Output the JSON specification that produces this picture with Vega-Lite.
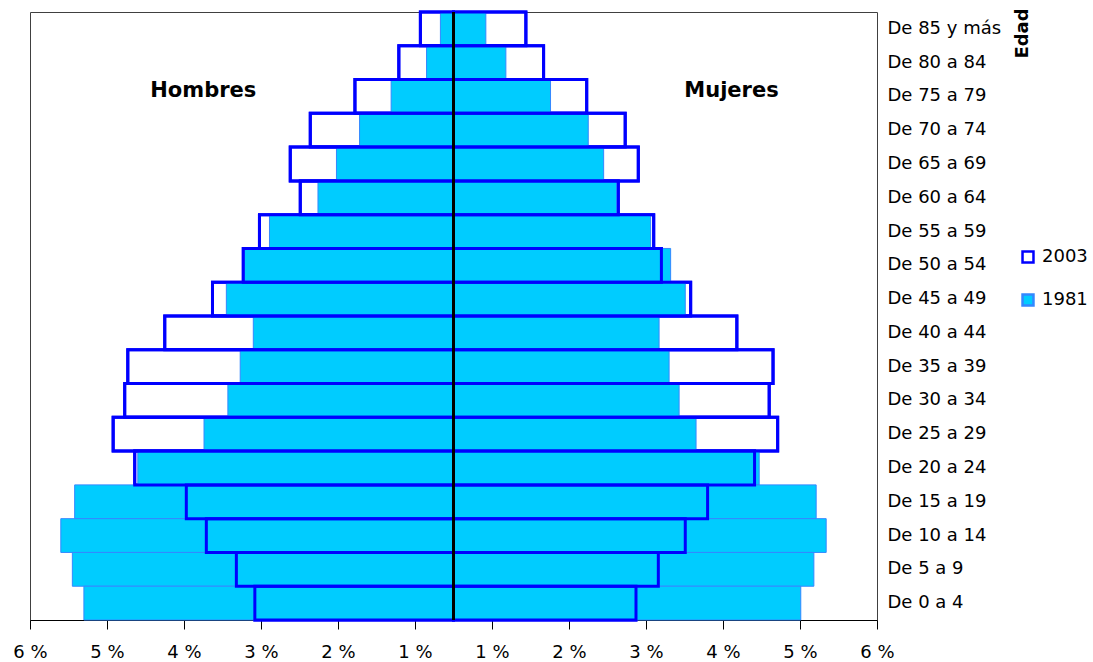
{
  "$schema": "https://vega.github.io/schema/vega-lite/v6.json",
  "width": 847,
  "height": 608,
  "autosize": {"type": "none"},
  "padding": {"left": 30, "top": 12, "right": 216, "bottom": 42},
  "background": "white",
  "config": {
    "view": {"stroke": "#404040", "strokeWidth": 1},
    "font": "DejaVu Sans",
    "axis": {"labelFont": "DejaVu Sans", "labelFontSize": 18, "labelColor": "#000", "domainColor": "#000", "tickColor": "#000", "grid": false, "titleColor": "#000"},
    "legend": {"orient": "none", "legendX": 989, "legendY": 236, "symbolType": "square", "symbolSize": 120, "symbolStrokeWidth": 2.5, "labelFont": "DejaVu Sans", "labelFontSize": 18, "labelColor": "#000", "rowPadding": 21, "labelOffset": 5, "padding": 0}
  },
  "data": {"values": [
    {"edad": "De 85 y más", "h2003": 0.93, "h1981": 0.67, "m2003": 1.44, "m1981": 0.92},
    {"edad": "De 80 a 84", "h2003": 1.21, "h1981": 0.85, "m2003": 1.67, "m1981": 1.18},
    {"edad": "De 75 a 79", "h2003": 1.78, "h1981": 1.31, "m2003": 2.23, "m1981": 1.76},
    {"edad": "De 70 a 74", "h2003": 2.36, "h1981": 1.72, "m2003": 2.73, "m1981": 2.25},
    {"edad": "De 65 a 69", "h2003": 2.62, "h1981": 2.02, "m2003": 2.90, "m1981": 2.45},
    {"edad": "De 60 a 64", "h2003": 2.49, "h1981": 2.26, "m2003": 2.64, "m1981": 2.62},
    {"edad": "De 55 a 59", "h2003": 3.02, "h1981": 2.89, "m2003": 3.10, "m1981": 3.06},
    {"edad": "De 50 a 54", "h2003": 3.23, "h1981": 3.22, "m2003": 3.20, "m1981": 3.32},
    {"edad": "De 45 a 49", "h2003": 3.63, "h1981": 3.45, "m2003": 3.58, "m1981": 3.51},
    {"edad": "De 40 a 44", "h2003": 4.25, "h1981": 3.10, "m2003": 4.18, "m1981": 3.17},
    {"edad": "De 35 a 39", "h2003": 4.73, "h1981": 3.27, "m2003": 4.65, "m1981": 3.30},
    {"edad": "De 30 a 34", "h2003": 4.77, "h1981": 3.43, "m2003": 4.60, "m1981": 3.43},
    {"edad": "De 25 a 29", "h2003": 4.92, "h1981": 3.74, "m2003": 4.71, "m1981": 3.65},
    {"edad": "De 20 a 24", "h2003": 4.64, "h1981": 4.60, "m2003": 4.41, "m1981": 4.47},
    {"edad": "De 15 a 19", "h2003": 3.97, "h1981": 5.42, "m2003": 3.80, "m1981": 5.21},
    {"edad": "De 10 a 14", "h2003": 3.71, "h1981": 5.60, "m2003": 3.51, "m1981": 5.34},
    {"edad": "De 5 a 9", "h2003": 3.32, "h1981": 5.45, "m2003": 3.16, "m1981": 5.18},
    {"edad": "De 0 a 4", "h2003": 3.08, "h1981": 5.30, "m2003": 2.87, "m1981": 5.01}
  ]},
  "resolve": {"scale": {"x": "independent"}, "axis": {"x": "independent"}},
  "layer": [
    {
      "layer": [
        {
          "mark": {"type": "bar", "strokeWidth": 3},
          "encoding": {
            "y": {"field": "edad", "type": "nominal", "sort": ["De 85 y más","De 80 a 84","De 75 a 79","De 70 a 74","De 65 a 69","De 60 a 64","De 55 a 59","De 50 a 54","De 45 a 49","De 40 a 44","De 35 a 39","De 30 a 34","De 25 a 29","De 20 a 24","De 15 a 19","De 10 a 14","De 5 a 9","De 0 a 4"], "scale": {"paddingInner": 0, "paddingOuter": 0}, "axis": {"orient": "right", "title": "Edad", "titleAngle": -90, "titleFont": "DejaVu Sans", "titleFontSize": 18, "titleFontWeight": "bold", "titleX": 145, "titleY": 21, "titleAlign": "center", "titleBaseline": "middle", "ticks": false, "labelPadding": 10, "domain": false}},
            "x": {"field": "h2003", "type": "quantitative", "title": null, "scale": {"domain": [-5, 6], "reverse": true, "nice": false, "zero": false}, "axis": null},
            "x2": {"datum": 0.5},
            "fill": {"datum": "2003", "type": "nominal", "scale": {"domain": ["2003", "1981"], "range": ["#FFFFFF", "#00CCFF"]}, "legend": {"title": null}},
            "stroke": {"datum": "2003", "type": "nominal", "scale": {"domain": ["2003", "1981"], "range": ["#0000FF", "#3388FF"]}, "legend": {"title": null}}
          }
        },
        {
          "mark": {"type": "bar", "strokeWidth": 1},
          "encoding": {
            "y": {"field": "edad", "type": "nominal", "sort": ["De 85 y más","De 80 a 84","De 75 a 79","De 70 a 74","De 65 a 69","De 60 a 64","De 55 a 59","De 50 a 54","De 45 a 49","De 40 a 44","De 35 a 39","De 30 a 34","De 25 a 29","De 20 a 24","De 15 a 19","De 10 a 14","De 5 a 9","De 0 a 4"], "scale": {"paddingInner": 0, "paddingOuter": 0}, "axis": {"orient": "right", "title": "Edad", "titleAngle": -90, "titleFont": "DejaVu Sans", "titleFontSize": 18, "titleFontWeight": "bold", "titleX": 145, "titleY": 21, "titleAlign": "center", "titleBaseline": "middle", "ticks": false, "labelPadding": 10, "domain": false}},
            "x": {"field": "h1981", "type": "quantitative", "title": null, "scale": {"domain": [-5, 6], "reverse": true, "nice": false, "zero": false}, "axis": null},
            "x2": {"datum": 0.5},
            "fill": {"datum": "1981", "type": "nominal", "legend": {"title": null}},
            "stroke": {"datum": "1981", "type": "nominal", "legend": {"title": null}}
          }
        },
        {
          "mark": {"type": "bar", "filled": false, "color": "#0000FF", "strokeWidth": 3},
          "encoding": {
            "y": {"field": "edad", "type": "nominal", "sort": ["De 85 y más","De 80 a 84","De 75 a 79","De 70 a 74","De 65 a 69","De 60 a 64","De 55 a 59","De 50 a 54","De 45 a 49","De 40 a 44","De 35 a 39","De 30 a 34","De 25 a 29","De 20 a 24","De 15 a 19","De 10 a 14","De 5 a 9","De 0 a 4"], "scale": {"paddingInner": 0, "paddingOuter": 0}, "axis": {"orient": "right", "title": "Edad", "titleAngle": -90, "titleFont": "DejaVu Sans", "titleFontSize": 18, "titleFontWeight": "bold", "titleX": 145, "titleY": 21, "titleAlign": "center", "titleBaseline": "middle", "ticks": false, "labelPadding": 10, "domain": false}},
            "x": {"field": "h2003", "type": "quantitative", "title": null, "scale": {"domain": [-5, 6], "reverse": true, "nice": false, "zero": false}, "axis": null},
            "x2": {"datum": 0.5}
          }
        },
        {
          "data": {"values": [{"rotulo": "Hombres"}]},
          "mark": {"type": "text", "font": "DejaVu Sans", "fontSize": 21, "fontWeight": "bold", "fill": "#000", "dy": -5},
          "encoding": {
            "x": {"datum": 3.75},
            "y": {"datum": "De 75 a 79", "type": "nominal", "axis": {"orient": "right", "title": "Edad", "titleAngle": -90, "titleFont": "DejaVu Sans", "titleFontSize": 18, "titleFontWeight": "bold", "titleX": 145, "titleY": 21, "titleAlign": "center", "titleBaseline": "middle", "ticks": false, "labelPadding": 10, "domain": false}},
            "text": {"field": "rotulo"}
          }
        }
      ]
    },
    {
      "layer": [
        {
          "mark": {"type": "bar", "strokeWidth": 3},
          "encoding": {
            "y": {"field": "edad", "type": "nominal", "sort": ["De 85 y más","De 80 a 84","De 75 a 79","De 70 a 74","De 65 a 69","De 60 a 64","De 55 a 59","De 50 a 54","De 45 a 49","De 40 a 44","De 35 a 39","De 30 a 34","De 25 a 29","De 20 a 24","De 15 a 19","De 10 a 14","De 5 a 9","De 0 a 4"], "scale": {"paddingInner": 0, "paddingOuter": 0}, "axis": {"orient": "right", "title": "Edad", "titleAngle": -90, "titleFont": "DejaVu Sans", "titleFontSize": 18, "titleFontWeight": "bold", "titleX": 145, "titleY": 21, "titleAlign": "center", "titleBaseline": "middle", "ticks": false, "labelPadding": 10, "domain": false}},
            "x": {"field": "m2003", "type": "quantitative", "title": null, "scale": {"domain": [-5, 6], "nice": false, "zero": false}, "axis": {"orient": "bottom", "title": null, "values": [-5,-4.5,-4,-3.5,-3,-2.5,-2,-1.5,-1,-0.5,0,0.5,1,1.5,2,2.5,3,3.5,4,4.5,5,5.5,6], "labelExpr": "datum.value % 1 === 0 ? (datum.value >= 1 ? datum.value : 1 - datum.value) + ' %' : ''", "tickSize": {"condition": {"test": "datum.value % 1 === 0", "value": 9}, "value": 5}, "labelPadding": 14, "labelFlush": false, "labelOverlap": false}},
            "x2": {"datum": 0.5},
            "fill": {"datum": "2003", "type": "nominal", "legend": {"title": null}},
            "stroke": {"datum": "2003", "type": "nominal", "legend": {"title": null}}
          }
        },
        {
          "mark": {"type": "bar", "strokeWidth": 1},
          "encoding": {
            "y": {"field": "edad", "type": "nominal", "sort": ["De 85 y más","De 80 a 84","De 75 a 79","De 70 a 74","De 65 a 69","De 60 a 64","De 55 a 59","De 50 a 54","De 45 a 49","De 40 a 44","De 35 a 39","De 30 a 34","De 25 a 29","De 20 a 24","De 15 a 19","De 10 a 14","De 5 a 9","De 0 a 4"], "scale": {"paddingInner": 0, "paddingOuter": 0}, "axis": {"orient": "right", "title": "Edad", "titleAngle": -90, "titleFont": "DejaVu Sans", "titleFontSize": 18, "titleFontWeight": "bold", "titleX": 145, "titleY": 21, "titleAlign": "center", "titleBaseline": "middle", "ticks": false, "labelPadding": 10, "domain": false}},
            "x": {"field": "m1981", "type": "quantitative", "title": null, "scale": {"domain": [-5, 6], "nice": false, "zero": false}, "axis": {"orient": "bottom", "title": null, "values": [-5,-4.5,-4,-3.5,-3,-2.5,-2,-1.5,-1,-0.5,0,0.5,1,1.5,2,2.5,3,3.5,4,4.5,5,5.5,6], "labelExpr": "datum.value % 1 === 0 ? (datum.value >= 1 ? datum.value : 1 - datum.value) + ' %' : ''", "tickSize": {"condition": {"test": "datum.value % 1 === 0", "value": 9}, "value": 5}, "labelPadding": 14, "labelFlush": false, "labelOverlap": false}},
            "x2": {"datum": 0.5},
            "fill": {"datum": "1981", "type": "nominal", "legend": {"title": null}},
            "stroke": {"datum": "1981", "type": "nominal", "legend": {"title": null}}
          }
        },
        {
          "mark": {"type": "bar", "filled": false, "color": "#0000FF", "strokeWidth": 3},
          "encoding": {
            "y": {"field": "edad", "type": "nominal", "sort": ["De 85 y más","De 80 a 84","De 75 a 79","De 70 a 74","De 65 a 69","De 60 a 64","De 55 a 59","De 50 a 54","De 45 a 49","De 40 a 44","De 35 a 39","De 30 a 34","De 25 a 29","De 20 a 24","De 15 a 19","De 10 a 14","De 5 a 9","De 0 a 4"], "scale": {"paddingInner": 0, "paddingOuter": 0}, "axis": {"orient": "right", "title": "Edad", "titleAngle": -90, "titleFont": "DejaVu Sans", "titleFontSize": 18, "titleFontWeight": "bold", "titleX": 145, "titleY": 21, "titleAlign": "center", "titleBaseline": "middle", "ticks": false, "labelPadding": 10, "domain": false}},
            "x": {"field": "m2003", "type": "quantitative", "title": null, "scale": {"domain": [-5, 6], "nice": false, "zero": false}, "axis": {"orient": "bottom", "title": null, "values": [-5,-4.5,-4,-3.5,-3,-2.5,-2,-1.5,-1,-0.5,0,0.5,1,1.5,2,2.5,3,3.5,4,4.5,5,5.5,6], "labelExpr": "datum.value % 1 === 0 ? (datum.value >= 1 ? datum.value : 1 - datum.value) + ' %' : ''", "tickSize": {"condition": {"test": "datum.value % 1 === 0", "value": 9}, "value": 5}, "labelPadding": 14, "labelFlush": false, "labelOverlap": false}},
            "x2": {"datum": 0.5}
          }
        },
        {
          "data": {"values": [{"rotulo": "Mujeres"}]},
          "mark": {"type": "text", "font": "DejaVu Sans", "fontSize": 21, "fontWeight": "bold", "fill": "#000", "dy": -5},
          "encoding": {
            "x": {"datum": 4.11},
            "y": {"datum": "De 75 a 79", "type": "nominal", "axis": {"orient": "right", "title": "Edad", "titleAngle": -90, "titleFont": "DejaVu Sans", "titleFontSize": 18, "titleFontWeight": "bold", "titleX": 145, "titleY": 21, "titleAlign": "center", "titleBaseline": "middle", "ticks": false, "labelPadding": 10, "domain": false}},
            "text": {"field": "rotulo"}
          }
        },
        {
          "data": {"values": [{"centro": 0.5}]},
          "mark": {"type": "rule", "color": "#000000", "strokeWidth": 3},
          "encoding": {
            "x": {"field": "centro", "type": "quantitative"}
          }
        }
      ]
    }
  ]
}
